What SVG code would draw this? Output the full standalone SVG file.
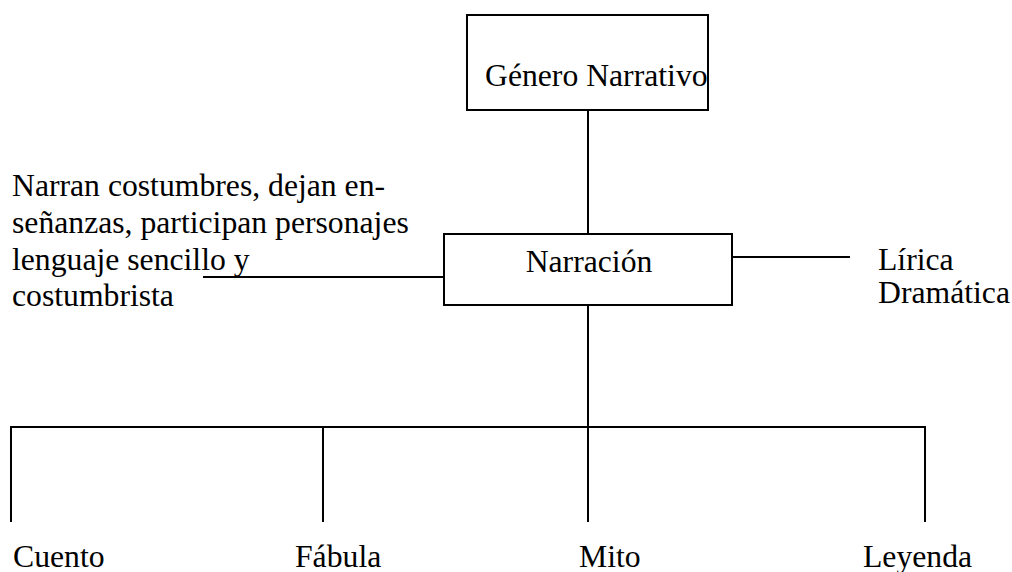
<svg xmlns="http://www.w3.org/2000/svg" width="1012" height="572" viewBox="0 0 1012 572">
<style>
text{font-family:"Liberation Serif","Times New Roman",serif;font-size:31.7px;fill:#000}
.box{fill:#fff;stroke:#000;stroke-width:2}
.ln{stroke:#000;stroke-width:2;fill:none}
</style>
<rect width="1012" height="572" fill="#fff"/>
<g id="connectors">
<line class="ln" x1="588" y1="110" x2="588" y2="234"/>
<line class="ln" x1="203" y1="277" x2="444" y2="277"/>
<line class="ln" x1="732" y1="257" x2="850" y2="257"/>
<line class="ln" x1="588" y1="305" x2="588" y2="427"/>
<line class="ln" x1="10" y1="427" x2="926" y2="427"/>
<line class="ln" x1="11" y1="427" x2="11" y2="522"/>
<line class="ln" x1="323" y1="427" x2="323" y2="522"/>
<line class="ln" x1="588" y1="427" x2="588" y2="522"/>
<line class="ln" x1="925" y1="427" x2="925" y2="522"/>
</g>
<g id="genero">
<rect class="box" x="467" y="15" width="241" height="95"/>
<text x="485" y="86">Género Narrativo</text>
</g>
<g id="narracion">
<rect class="box" x="444" y="234" width="288" height="71"/>
<text x="589" y="272" text-anchor="middle">Narración</text>
</g>
<g id="descripcion">
<text x="12" y="196">Narran costumbres, dejan en-</text>
<text x="12" y="233">señanzas, participan personajes</text>
<text x="12" y="270">lenguaje sencillo y</text>
<text x="12" y="306">costumbrista</text>
</g>
<g id="otros">
<text x="878" y="270">Lírica</text>
<text x="878" y="303">Dramática</text>
</g>
<g id="cuento"><text x="13" y="567">Cuento</text></g>
<g id="fabula"><text x="295" y="567">Fábula</text></g>
<g id="mito"><text x="579" y="567">Mito</text></g>
<g id="leyenda"><text x="863" y="567">Leyenda</text></g>
</svg>
